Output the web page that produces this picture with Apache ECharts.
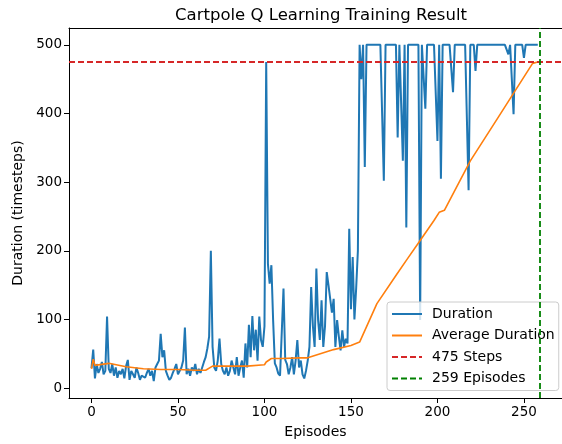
<!DOCTYPE html>
<html>
<head>
<meta charset="utf-8">
<script src="https://cdn.jsdelivr.net/npm/echarts@6/dist/echarts.min.js"></script>
<style>
html,body{margin:0;padding:0;background:#fff;}
#chart{width:562px;height:444px;}
</style>
</head>
<body>
<div id="chart"></div>
<script>
// Duration per episode (episodes 0..258)
const duration = [
 29, 56, 14, 35, 22, 28, 38, 20, 25, 104,
 28, 22, 35, 18, 30, 15, 25, 20, 28, 14,
 32, 41, 12, 25, 20, 15, 30, 22, 12, 18,
 20, 15, 22, 28, 18, 25, 10, 30, 35, 40,
 79, 45, 55, 25, 18, 12, 15, 22, 28, 35,
 20, 25, 30, 40, 88, 20, 28, 18, 30, 25,
 35, 20, 28, 22, 30, 38, 45, 58, 75, 200,
 60, 30, 25, 40, 72, 35, 25, 20, 30, 18,
 25, 40, 30, 20, 45, 18, 30, 40, 15, 65,
 30, 92, 45, 105, 55, 85, 40, 104, 70, 60,
 90, 475, 181, 152, 179, 99, 36, 30, 21, 18,
 16, 145, 41, 35, 20, 30, 45, 20, 40, 70,
 30, 40, 20, 14, 25, 40, 60, 147, 90, 60,
 174, 99, 70, 128, 60, 90, 169, 150, 152, 110,
 130, 60, 99, 75, 55, 84, 60, 72, 65, 232,
 115, 191, 100, 145, 200, 500, 450, 500, 322, 500,
 500, 500, 500, 500, 500, 500, 500, 500, 500, 302,
 500, 500, 500, 500, 500, 500, 500, 365, 500, 500,
 331, 500, 234, 500, 500, 500, 500, 500, 500, 500,
 99, 500, 500, 407, 500, 500, 500, 500, 500, 500,
 360, 500, 305, 500, 500, 500, 500, 500, 500, 431,
 500, 500, 500, 500, 500, 500, 500, 500, 288, 500,
 500, 500, 462, 500, 500, 500, 500, 500, 500, 500,
 500, 500, 500, 500, 500, 500, 500, 500, 500, 500,
 500, 486, 500, 500, 399, 500, 500, 500, 500, 500,
 481, 500, 500, 500, 500, 500, 500, 500, 500
];
// Average duration read at episodes
const avgEpisodes = [0, 1, 2, 10, 20, 30, 40, 50, 60, 66, 70, 80, 90, 100, 101, 104, 110, 120, 125, 130, 140, 150, 155, 165, 176, 182, 190, 198, 201, 204, 219, 234, 255, 258];
const avgValues   = [28, 42, 33, 36, 31, 28, 27, 27, 26, 26, 32, 32, 32, 34, 38, 43, 43, 44, 44, 48, 56, 62, 67, 123, 164, 186, 215, 244, 256, 259, 331, 390, 473, 475];
const xTicks = [0, 50, 100, 150, 200, 250];
const yTicks = [0, 100, 200, 300, 400, 500];
const stepsLine = 475;
const episodesLine = 259;

const chart = echarts.init(document.getElementById('chart'));
const font = 'DejaVu Sans';
const durData = duration.map((v, i) => [i, v]);
const avgData = avgEpisodes.map((e, i) => [e, avgValues[i]]);

chart.setOption({
  animation: false,
  backgroundColor: '#fff',
  title: {
    text: 'Cartpole Q Learning Training Result',
    left: 316, top: 2, textAlign: 'center',
    textStyle: {fontFamily: font, fontSize: 16.5, fontWeight: 'normal', color: '#000'}
  },
  grid: {left: 69, top: 28, right: -4, bottom: 46, containLabel: false},
  legend: {
    orient: 'vertical', left: 387, top: 302,
    padding: [5, 4, 5, 4], itemGap: 7.5, itemWidth: 30, itemHeight: 14,
    backgroundColor: 'rgba(255,255,255,0.8)', borderColor: '#ccc', borderWidth: 1, borderRadius: 3,
    itemStyle: {opacity: 0, color: 'rgba(0,0,0,0)', borderWidth: 0},
    textStyle: {fontFamily: font, fontSize: 14, color: '#000', padding: [0, 0, 0, 5]},
    data: ['Duration', 'Average Duration', '475 Steps', '259 Episodes']
  },
  xAxis: [{
    type: 'value', min: -13, max: 272,
    name: 'Episodes', nameLocation: 'middle', nameGap: 27,
    nameTextStyle: {fontFamily: font, fontSize: 14, color: '#000'},
    axisLine: {show: true, onZero: false, lineStyle: {color: '#000', width: 1}},
    axisTick: {show: true, length: 5, customValues: xTicks, lineStyle: {color: '#000'}},
    axisLabel: {customValues: xTicks, fontFamily: font, fontSize: 13.5, color: '#000', margin: 7},
    splitLine: {show: false}
  }, {
    type: 'value', position: 'top', min: -13, max: 272,
    axisLine: {show: true, onZero: false, lineStyle: {color: '#000', width: 1}},
    axisTick: {show: false}, axisLabel: {show: false}, splitLine: {show: false}
  }],
  yAxis: [{
    type: 'value', min: -14.5, max: 524.5,
    name: 'Duration (timesteps)', nameLocation: 'middle', nameGap: 44,
    nameTextStyle: {fontFamily: font, fontSize: 14, color: '#000'},
    axisLine: {show: true, onZero: false, lineStyle: {color: '#000', width: 1}},
    axisTick: {show: true, length: 5, customValues: yTicks, lineStyle: {color: '#000'}},
    axisLabel: {customValues: yTicks, fontFamily: font, fontSize: 13.5, color: '#000', margin: 7},
    splitLine: {show: false}
  }],
  series: [{
    name: 'Duration', type: 'line', data: durData, showSymbol: false, symbol: 'none',
    lineStyle: {color: '#1f77b4', width: 2}, itemStyle: {color: '#1f77b4'}, z: 2
  }, {
    name: 'Average Duration', type: 'line', data: avgData, showSymbol: false, symbol: 'none',
    lineStyle: {color: '#ff7f0e', width: 1.6}, itemStyle: {color: '#ff7f0e'}, z: 3
  }, {
    name: '475 Steps', type: 'line', data: [], symbol: 'none',
    lineStyle: {color: '#d62728', width: 1.8, type: [6, 3]}, itemStyle: {color: '#d62728'},
    markLine: {silent: true, symbol: 'none', label: {show: false},
      lineStyle: {color: '#d62728', width: 1.8, type: [6, 3]},
      data: [{yAxis: stepsLine}]}, z: 4
  }, {
    name: '259 Episodes', type: 'line', data: [], symbol: 'none',
    lineStyle: {color: '#008000', width: 1.8, type: [6, 3]}, itemStyle: {color: '#008000'},
    markLine: {silent: true, symbol: 'none', label: {show: false},
      lineStyle: {color: '#008000', width: 1.8, type: [6, 3]},
      data: [{xAxis: episodesLine}]}, z: 4
  }]
});
</script>
</body>
</html>
